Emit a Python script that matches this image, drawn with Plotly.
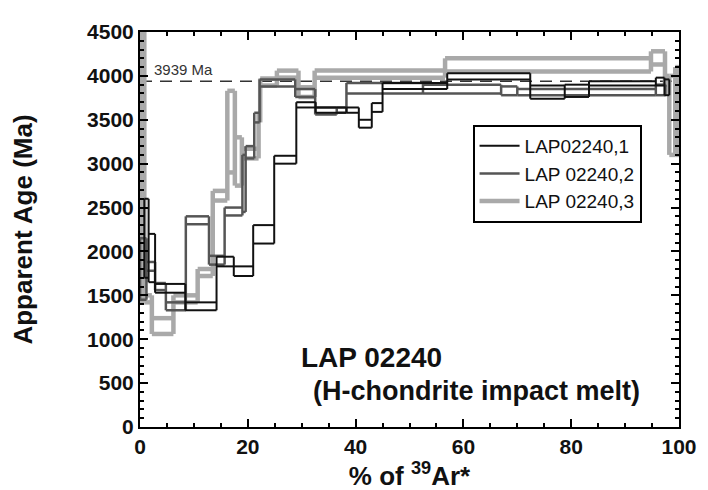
import plotly.graph_objects as go

# ---- data: step edges (% 39Ar released), lower / upper age bounds (Ma) ----
s1_name = "LAP02240,1"
s1_edges = [0.8, 1.6, 2.8, 8.4, 14.2, 17.4, 21.0, 24.9, 29.0, 32.6, 38.3, 40.6, 43.0, 45.0, 57.0, 72.4, 78.8, 83.3, 95.7, 97.3, 98.2]
s1_lo = [1700, 1650, 1530, 1330, 1830, 1720, 2090, 3000, 3640, 3580, 3580, 3410, 3590, 3850, 3960, 3740, 3760, 3890, 3890, 3780]
s1_hi = [2600, 2200, 1630, 1420, 1940, 1830, 2300, 3090, 3700, 3640, 3640, 3500, 3690, 3920, 4030, 3890, 3900, 3940, 3980, 3960]

s2_name = "LAP 02240,2"
s2_edges = [0.0, 1.2, 2.8, 4.8, 8.5, 12.8, 15.7, 19.0, 19.6, 21.2, 22.2, 28.8, 32.5, 36.5, 38.3, 52.5, 67.0, 70.0, 95.7, 97.5]
s2_lo = [1450, 1780, 1560, 1330, 2310, 1850, 2410, 2450, 3060, 3470, 3880, 3760, 3560, 3580, 3800, 3800, 3780, 3780, 3780]
s2_hi = [2150, 1880, 1640, 1420, 2400, 1950, 2500, 3100, 3200, 3580, 3960, 3850, 3640, 3640, 3920, 3900, 3880, 3850, 3900]

s3_name = "LAP 02240,3"
s3_edges = [0.0, 0.8, 2.2, 6.2, 10.7, 13.5, 16.2, 17.6, 18.9, 22.0, 22.3, 25.4, 29.4, 32.4, 56.6, 94.8, 97.4, 98.2, 99.3, 100.0]
s3_lo = [1420, 1420, 1060, 1420, 1720, 2580, 2900, 2750, 3060, 3470, 3890, 3980, 3760, 3980, 4050, 4130, 3900, 3100, 3100]
s3_hi = [4500, 1500, 1240, 1500, 1800, 2690, 3830, 3300, 3170, 3580, 3970, 4060, 3870, 4060, 4200, 4280, 4000, 4000, 4100]

ref_age = 3939
ref_label = "3939 Ma"
x_ticks = [0, 20, 40, 60, 80, 100]
y_ticks = [0, 500, 1000, 1500, 2000, 2500, 3000, 3500, 4000, 4500]


def box_path(edges, lo, hi):
    xs, ys = [], []
    n = len(lo)
    for i in range(n):
        xs += [edges[i], edges[i + 1], None, edges[i], edges[i + 1], None]
        ys += [hi[i], hi[i], None, lo[i], lo[i], None]
    for j in range(n + 1):
        cl, ch = [], []
        if j > 0:
            cl.append(lo[j - 1]); ch.append(hi[j - 1])
        if j < n:
            cl.append(lo[j]); ch.append(hi[j])
        xs += [edges[j], edges[j], None]
        ys += [min(cl), max(ch), None]
    return xs, ys


FONT = "Liberation Sans, Arial, sans-serif"
fig = go.Figure()

series = [
    (s3_name, s3_edges, s3_lo, s3_hi, "#a9a9a9", 4.5, 3),
    (s2_name, s2_edges, s2_lo, s2_hi, "#555555", 2.5, 2),
    (s1_name, s1_edges, s1_lo, s1_hi, "#111111", 2.0, 1),
]
for name, e, lo, hi, col, w, rank in series:
    xs, ys = box_path(e, lo, hi)
    fig.add_trace(go.Scatter(x=xs, y=ys, mode="lines", name=name,
                             line=dict(color=col, width=w),
                             legendrank=rank, hoverinfo="skip"))

fig.add_shape(type="line", xref="x", yref="y", x0=0, x1=100, y0=ref_age, y1=ref_age,
              line=dict(color="#333333", width=1.5, dash="12px,8px"), layer="below")
fig.add_annotation(x=2.2, y=ref_age, text=ref_label, showarrow=False,
                   xanchor="left", yanchor="bottom", yshift=1,
                   font=dict(family=FONT, size=15, color="#333333"))
fig.add_annotation(x=43, y=790, text="<b>LAP 02240</b>", showarrow=False,
                   font=dict(family=FONT, size=28, color="#111111"))
fig.add_annotation(x=62.5, y=410, text="<b>(H-chondrite impact melt)</b>", showarrow=False,
                   font=dict(family=FONT, size=27, color="#111111"))

axis_common = dict(showline=True, linecolor="black", linewidth=2, mirror="ticks",
                   ticks="inside", ticklen=8, tickwidth=2, tickcolor="black",
                   showgrid=False, zeroline=False,
                   tickfont=dict(family=FONT, size=21, color="#111111", weight="bold"))

fig.update_xaxes(range=[0, 100], tickvals=x_ticks,
                 minor=dict(dtick=5, ticks="inside", ticklen=4, tickwidth=1.5, tickcolor="black"),
                 title=dict(text="<b>% of <sup>39</sup>Ar*</b>", font=dict(family=FONT, size=26, color="#111111"),
                            standoff=10),
                 **axis_common)
fig.update_yaxes(range=[0, 4500], tickvals=y_ticks,
                 minor=dict(dtick=100, ticks="inside", ticklen=4, tickwidth=1.5, tickcolor="black"),
                 title=dict(text="<b>Apparent Age (Ma)</b>", font=dict(family=FONT, size=26, color="#111111"),
                            standoff=49),
                 **axis_common)

fig.update_layout(
    width=708, height=490,
    margin=dict(l=132, r=37, t=16, b=66),
    paper_bgcolor="white", plot_bgcolor="white",
    showlegend=True,
    legend=dict(x=0.617, y=0.765, xanchor="left", yanchor="top",
                bordercolor="black", borderwidth=2, bgcolor="white",
                font=dict(family=FONT, size=19, color="#111111"),
                tracegroupgap=0, itemwidth=40),
)

fig.write_html("out.html")
